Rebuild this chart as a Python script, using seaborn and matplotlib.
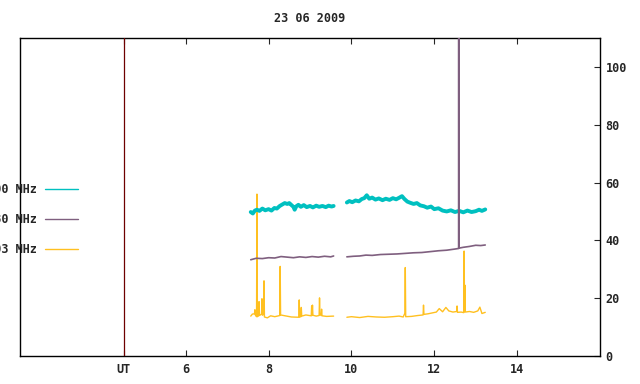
import pandas as pd
import seaborn as sns
import matplotlib.pyplot as plt

# hand-read values (hours UT, flux units)
cyan_t1 = [7.57, 7.62, 7.67, 7.72, 7.78, 7.85, 7.92, 8.0, 8.07, 8.14, 8.2, 8.27, 8.33, 8.39, 8.45, 8.5, 8.56,
           8.6, 8.63, 8.67, 8.72, 8.78, 8.85, 8.92, 9.0, 9.07, 9.15, 9.22, 9.3, 9.38, 9.45, 9.52, 9.57]
cyan_v1 = [49.8, 49.3, 50.3, 50.6, 50.2, 51.0, 50.4, 50.8, 50.3, 51.2, 51.0, 51.9, 52.4, 52.9, 52.6, 52.9, 52.1,
           51.6, 50.6, 51.8, 52.3, 51.6, 52.2, 51.5, 51.9, 51.4, 52.0, 51.6, 51.9, 51.5, 52.0, 51.7, 51.9]
cyan_t2 = [9.89, 9.95, 10.02, 10.1, 10.18, 10.25, 10.31, 10.37, 10.43, 10.5, 10.58, 10.66, 10.75, 10.83, 10.92,
           11.0, 11.08, 11.16, 11.22, 11.28, 11.35, 11.42, 11.5, 11.58, 11.66, 11.75, 11.83, 11.92, 12.0, 12.1,
           12.2, 12.3, 12.4, 12.5, 12.6, 12.7, 12.8, 12.9, 13.0, 13.08, 13.15, 13.23]
cyan_v2 = [53.1, 53.6, 53.2, 53.8, 53.5, 54.3, 54.6, 55.6, 54.4, 54.8, 54.1, 54.5, 53.9, 54.4, 54.0,
           54.6, 54.2, 54.8, 55.3, 54.3, 53.4, 53.0, 52.6, 52.9, 52.1, 51.8, 51.3, 51.7, 50.8, 51.1,
           50.3, 50.0, 50.4, 49.8, 50.2, 49.7, 50.3, 49.8, 50.1, 50.6, 50.2, 50.7]

purple_t1 = [7.57, 7.7, 7.85, 8.0, 8.15, 8.3, 8.45, 8.6, 8.75, 8.9, 9.05, 9.2, 9.35, 9.5, 9.57]
purple_v1 = [33.3, 33.8, 33.7, 34.0, 33.9, 34.4, 34.2, 34.0, 34.3, 34.1, 34.4, 34.2, 34.5, 34.3, 34.6]
purple_t2 = [9.89, 10.05, 10.2, 10.35, 10.5, 10.7, 10.9, 11.1, 11.3, 11.5, 11.7, 11.9, 12.1, 12.3, 12.5,
             12.588, 12.59, 12.592, 12.7, 12.85, 13.0, 13.12, 13.23]
purple_v2 = [34.3, 34.5, 34.6, 34.9, 34.8, 35.1, 35.2, 35.3, 35.5, 35.7, 35.8, 36.1, 36.4, 36.6, 37.0,
             37.2, 115.0, 37.3, 37.6, 37.9, 38.3, 38.2, 38.4]

orange_t1 = [7.57, 7.61, 7.66, 7.67, 7.68, 7.71, 7.72, 7.73, 7.76, 7.77, 7.78, 7.83, 7.84, 7.85, 7.88, 7.89,
             7.9, 7.97, 8.05, 8.15, 8.27, 8.28, 8.29, 8.4, 8.55, 8.73, 8.74, 8.75, 8.78, 8.79, 8.8, 8.9, 9.03,
             9.04, 9.05, 9.06, 9.07, 9.15, 9.22, 9.23, 9.24, 9.27, 9.28, 9.29, 9.4, 9.57]
orange_v1 = [13.8, 14.5, 14.6, 16.0, 14.2, 13.6, 56.0, 13.6, 13.9, 18.8, 14.0, 14.5, 19.8, 14.1, 14.4, 26.0,
             13.5, 13.2, 13.9, 13.6, 14.0, 31.0, 14.2, 13.9, 13.5, 13.4, 19.4, 13.5, 13.6, 16.8, 13.8, 14.2, 13.9,
             17.3, 14.0, 17.6, 14.1, 13.8, 14.0, 20.1, 14.3, 14.0, 16.2, 13.9, 13.7, 13.8]
orange_t2 = [9.89, 10.0, 10.2, 10.4, 10.6, 10.8, 11.0, 11.15, 11.25, 11.29, 11.3, 11.31, 11.45, 11.6, 11.73,
             11.74, 11.75, 11.85, 11.95, 12.05, 12.12, 12.2, 12.28, 12.35, 12.45, 12.54, 12.55, 12.56, 12.65,
             12.71, 12.72, 12.73, 12.74, 12.75, 12.85, 12.95, 13.05, 13.1, 13.15, 13.23]
orange_v2 = [13.4, 13.6, 13.3, 13.7, 13.5, 13.4, 13.6, 13.8, 13.5, 14.8, 30.6, 13.6, 13.7, 14.0, 14.2,
             17.6, 14.4, 14.6, 14.9, 15.2, 16.4, 15.3, 16.8, 15.6, 15.2, 15.4, 17.3, 15.1, 15.2,
             15.0, 36.3, 15.3, 24.5, 15.2, 15.4, 15.1, 15.6, 16.9, 14.7, 15.1]

labels = ['1000 MHz', '1080 MHz', '1003 MHz']
colors = ['#00c0c0', '#7f5f7f', '#ffc020']
x_ticks = [4.5, 6, 8, 10, 12, 14]
x_tick_labels = ['UT', '6', '8', '10', '12', '14']
y_ticks = [0, 20, 40, 60, 80, 100]


def frame(t1, v1, t2, v2):
    return pd.DataFrame({'t': t1 + t2, 'v': v1 + v2, 'seg': [1] * len(t1) + [2] * len(t2)})


cyan = frame(cyan_t1, cyan_v1, cyan_t2, cyan_v2)
purple = frame(purple_t1, purple_v1, purple_t2, purple_v2)
orange = frame(orange_t1, orange_v1, orange_t2, orange_v2)

sns.set_style('white')
plt.rcParams['font.family'] = ['DejaVu Sans Mono']
plt.rcParams['font.weight'] = 'bold'

fig = plt.figure(figsize=(6.4, 3.84), dpi=100)
ax = fig.add_axes([20 / 640, 28 / 384, 580 / 640, 318 / 384])

sns.lineplot(data=orange, x='t', y='v', units='seg', estimator=None, color=colors[2], lw=1.0, ax=ax, zorder=2)
sns.lineplot(data=cyan, x='t', y='v', units='seg', estimator=None, color=colors[0], lw=2.8, ax=ax, zorder=3)
sns.lineplot(data=purple, x='t', y='v', units='seg', estimator=None, color=colors[1], lw=1.2, ax=ax, zorder=4)

ax.axvline(4.5, color='#6e0000', lw=0.9, zorder=5)

ax.set_xlim(2, 16)
ax.set_ylim(0, 110)
ax.set_xlabel('')
ax.set_ylabel('')
ax.set_xticks(x_ticks)
ax.set_xticklabels(x_tick_labels)
ax.set_yticks(y_ticks)
ax.yaxis.tick_right()
ax.tick_params(axis='x', top=True, bottom=True, direction='in', length=4, width=0.8, pad=5, labelsize=8.5)
ax.tick_params(axis='y', left=False, right=True, direction='in', length=4, width=0.8, pad=4, labelsize=8.5)
for s in ax.spines.values():
    s.set_color('black')
    s.set_linewidth(1.0)

handles = [plt.Line2D([], [], color=c, lw=1.0) for c in colors]
ax.legend(handles, labels, loc='upper right', bbox_to_anchor=(78 / 640, 1 - 183 / 384),
          bbox_transform=fig.transFigure, markerfirst=False, frameon=False, borderpad=0,
          borderaxespad=0, handlelength=2.8, handletextpad=0.65, labelspacing=1.45, fontsize=8.5)

fig.text(310 / 640, 1 - 18 / 384, '23 06 2009', ha='center', va='center', fontsize=8.5, fontweight='bold')

fig.savefig('out.png', dpi=100)
